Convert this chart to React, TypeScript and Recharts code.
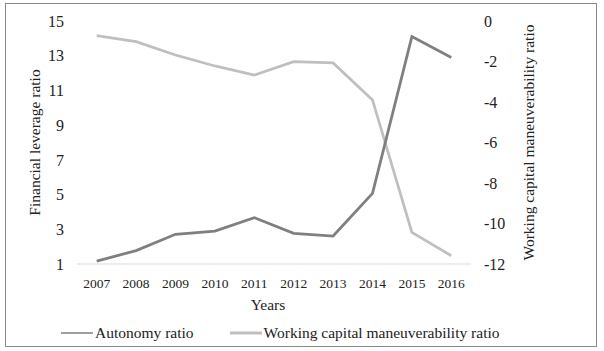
import React from 'react';
import { LineChart, Line, XAxis, YAxis } from 'recharts';

const years = ['2007', '2008', '2009', '2010', '2011', '2012', '2013', '2014', '2015', '2016'];
const autonomyRatio = [1.17, 1.77, 2.71, 2.9, 3.67, 2.77, 2.61, 5.07, 14.1, 12.9];
const workingCapitalRatio = [-0.72, -1.02, -1.68, -2.22, -2.67, -2.01, -2.07, -3.9, -10.44, -11.59];
const leftTicks = [1, 3, 5, 7, 9, 11, 13, 15];
const rightTicks = [-12, -10, -8, -6, -4, -2, 0];

const data = years.map((y, i) => ({
  year: y,
  autonomy: autonomyRatio[i],
  wcm: workingCapitalRatio[i],
}));

const FONT = '"Liberation Serif", "Times New Roman", serif';
const DARK = '#7f7f7f';
const LIGHT = '#bfbfbf';
const TEXT = '#222';

const makeVLabel = (text: string, cx: (vb: any) => number) => (props: any) => {
  const vb = props.viewBox || {};
  const x = cx(vb);
  const y = vb.y + vb.height / 2;
  return (
    <text
      x={x}
      y={y}
      transform={`rotate(-90, ${x}, ${y})`}
      textAnchor="middle"
      dominantBaseline="central"
      fill={TEXT}
      style={{ fontFamily: FONT, fontSize: 15.5 }}
    >
      {text}
    </text>
  );
};

const yearsLabel = (props: any) => {
  const vb = props.viewBox || {};
  const x = vb.x + vb.width / 2 - 6;
  return (
    <text x={x} y={304} textAnchor="middle" dominantBaseline="central" fill={TEXT} style={{ fontFamily: FONT, fontSize: 15.5 }}>
      Years
    </text>
  );
};

const LegendBox = () => (
  <div
    style={{
      position: 'absolute',
      left: 61,
      top: 323,
      height: 20,
      display: 'flex',
      alignItems: 'center',
      fontFamily: FONT,
      fontSize: 15.5,
      color: TEXT,
      whiteSpace: 'nowrap',
    }}
  >
    <svg width={32} height={6} style={{ marginRight: 2 }}>
      <line x1={0} y1={3} x2={32} y2={3} stroke={DARK} strokeWidth={1.5} />
    </svg>
    <span style={{ marginRight: 36 }}>Autonomy ratio</span>
    <svg width={32} height={6} style={{ marginRight: 2 }}>
      <line x1={0} y1={3} x2={32} y2={3} stroke={LIGHT} strokeWidth={3} />
    </svg>
    <span>Working capital maneuverability ratio</span>
  </div>
);

export default function App() {
  return (
    <div style={{ position: 'absolute', left: 0, top: 0, width: 604, height: 351, background: '#fff' }}>
      <div
        style={{
          position: 'absolute',
          left: 5,
          top: 3,
          width: 592,
          height: 344,
          boxSizing: 'border-box',
          border: '1px solid #8a8a8a',
        }}
      />
      <div style={{ position: 'absolute', left: 0, top: 0 }}>
        <LineChart
          width={604}
          height={351}
          data={data}
          margin={{ top: 21, right: 0, bottom: 7, left: 0 }}
        >
          <XAxis
            dataKey="year"
            height={80}
            padding={{ left: 19.7, right: 19.7 }}
            tickLine={false}
            axisLine={{ stroke: '#d9d9d9', strokeWidth: 1 }}
            tick={{ fill: TEXT, fontSize: 13.5, fontFamily: FONT }}
            tickMargin={8}
            interval={0}
            label={{ content: yearsLabel }}
          />
          <YAxis
            yAxisId="left"
            orientation="left"
            width={77}
            domain={[1, 15]}
            ticks={leftTicks}
            interval={0}
            axisLine={false}
            tickLine={false}
            tickMargin={7}
            tick={{ fill: TEXT, fontSize: 16, fontFamily: FONT }}
            label={{ content: makeVLabel('Financial leverage ratio', () => 34) }}
          />
          <YAxis
            yAxisId="right"
            orientation="right"
            width={133}
            domain={[-12, 0]}
            ticks={rightTicks}
            interval={0}
            axisLine={false}
            tickLine={false}
            tickMargin={7}
            tick={{ fill: TEXT, fontSize: 16, fontFamily: FONT }}
            label={{ content: makeVLabel('Working capital maneuverability ratio', () => 528) }}
          />
          <Line
            yAxisId="right"
            type="linear"
            dataKey="wcm"
            name="Working capital maneuverability ratio"
            stroke={LIGHT}
            strokeWidth={2.75}
            dot={false}
            isAnimationActive={false}
          />
          <Line
            yAxisId="left"
            type="linear"
            dataKey="autonomy"
            name="Autonomy ratio"
            stroke={DARK}
            strokeWidth={2.75}
            dot={false}
            isAnimationActive={false}
          />
        </LineChart>
      </div>
      <LegendBox />
    </div>
  );
}
